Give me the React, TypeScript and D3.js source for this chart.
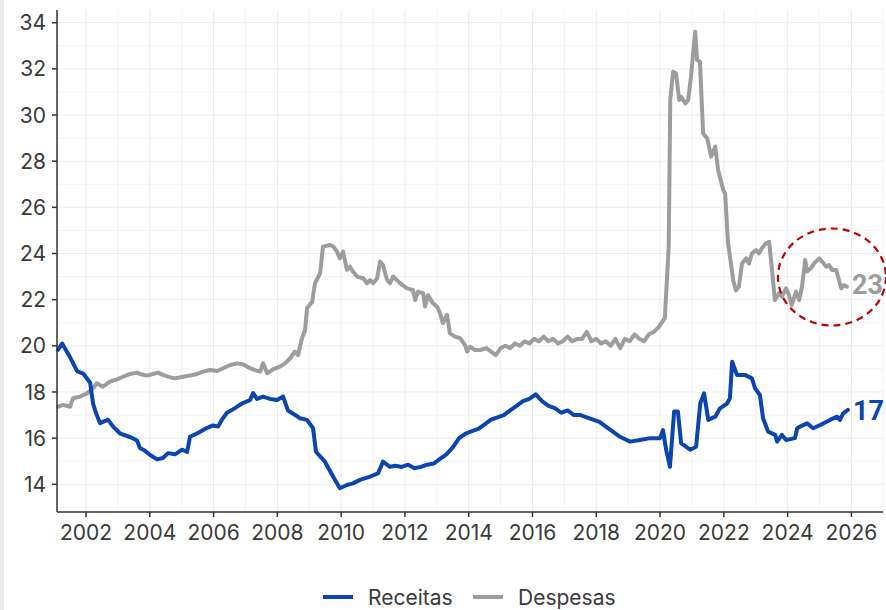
import React from "react";
import * as d3 from "d3";

const receitasYears = [
  2001.12, 2001.25, 2001.5, 2001.72, 2001.91, 2002.13, 2002.22, 2002.31, 2002.44, 2002.69, 2002.85,
  2003.07, 2003.38, 2003.6, 2003.69, 2003.85, 2004.01, 2004.23, 2004.41, 2004.57, 2004.79, 2005.01,
  2005.17, 2005.26, 2005.48, 2005.73, 2005.98, 2006.14, 2006.26, 2006.42, 2006.67, 2006.89, 2007.14,
  2007.24, 2007.36, 2007.55, 2007.77, 2007.99, 2008.18, 2008.33, 2008.62, 2008.71, 2008.93, 2009.12,
  2009.21, 2009.49, 2009.75, 2009.96, 2010.18, 2010.37, 2010.59, 2010.91, 2011.16, 2011.31, 2011.53,
  2011.7, 2011.9, 2012.1, 2012.3, 2012.5, 2012.7, 2012.9, 2013.1, 2013.3, 2013.5, 2013.7, 2013.9,
  2014.1, 2014.3, 2014.5, 2014.7, 2014.9, 2015.1, 2015.3, 2015.5, 2015.7, 2015.9, 2016.1, 2016.3,
  2016.5, 2016.7, 2016.9, 2017.1, 2017.3, 2017.5, 2017.7, 2017.9, 2018.1, 2018.3, 2018.5, 2018.74,
  2019.06, 2019.37, 2019.69, 2020.0, 2020.09, 2020.19, 2020.31, 2020.44, 2020.56, 2020.66, 2020.94,
  2021.13, 2021.26, 2021.38, 2021.51, 2021.73, 2021.88, 2022.1, 2022.19, 2022.26, 2022.41, 2022.66,
  2022.88, 2022.98, 2023.13, 2023.23, 2023.39, 2023.61, 2023.67, 2023.82, 2023.95, 2024.23, 2024.3,
  2024.39, 2024.61, 2024.8, 2025.02, 2025.33, 2025.55, 2025.64, 2025.74, 2025.89,
];
const receitasValues = [
  19.82, 20.1, 19.5, 18.9, 18.8, 18.4, 17.5, 17.1, 16.65, 16.8, 16.5,
  16.2, 16.05, 15.9, 15.57, 15.45, 15.27, 15.08, 15.14, 15.35, 15.3, 15.5,
  15.4, 16.06, 16.2, 16.4, 16.55, 16.5, 16.8, 17.1, 17.3, 17.5, 17.65,
  17.95, 17.7, 17.8, 17.7, 17.65, 17.8, 17.2, 16.95, 16.86, 16.79, 16.43,
  15.41, 14.98, 14.33, 13.83, 13.97, 14.04, 14.19, 14.33, 14.48, 14.98, 14.76,
  14.8, 14.75, 14.85, 14.7, 14.75, 14.85, 14.9, 15.1, 15.3, 15.6, 16.0, 16.2,
  16.3, 16.4, 16.6, 16.8, 16.9, 17.0, 17.2, 17.4, 17.6, 17.7, 17.9, 17.6,
  17.4, 17.3, 17.1, 17.2, 17.0, 17.0, 16.9, 16.8, 16.7, 16.5, 16.3, 16.06,
  15.85, 15.92, 16.0, 16.0, 16.35, 15.5, 14.76, 17.15, 17.15, 15.78, 15.5,
  15.63, 17.5, 17.94, 16.79, 16.93, 17.29, 17.5, 17.73, 19.31, 18.74, 18.74,
  18.59, 18.16, 17.87, 16.86, 16.28, 16.14, 15.85, 16.14, 15.92, 16.0, 16.43,
  16.5, 16.64, 16.43, 16.57, 16.79, 16.93, 16.79, 17.07, 17.22,
];

const despesasYears = [
  2001.12, 2001.28, 2001.5, 2001.59, 2001.81, 2002.03, 2002.22, 2002.34, 2002.53, 2002.75, 2002.97,
  2003.16, 2003.38, 2003.6, 2003.69, 2003.91, 2004.1, 2004.26, 2004.41, 2004.63, 2004.79, 2005.04,
  2005.26, 2005.48, 2005.67, 2005.89, 2006.11, 2006.3, 2006.52, 2006.74, 2006.92, 2007.14, 2007.3,
  2007.46, 2007.55, 2007.68, 2007.86, 2008.08, 2008.24, 2008.4, 2008.55, 2008.65, 2008.77, 2008.87,
  2008.93, 2009.09, 2009.18, 2009.34, 2009.43, 2009.65, 2009.75, 2009.87, 2009.96, 2010.06, 2010.18,
  2010.28, 2010.37, 2010.5, 2010.69, 2010.81, 2010.91, 2011.0, 2011.13, 2011.22, 2011.31, 2011.44,
  2011.53, 2011.63, 2011.85, 2012.07, 2012.25, 2012.32, 2012.41, 2012.57, 2012.63, 2012.72, 2012.88,
  2013.01, 2013.1, 2013.19, 2013.32, 2013.41, 2013.57, 2013.73, 2013.88, 2013.95, 2014.04, 2014.2,
  2014.36, 2014.55, 2014.7, 2014.85, 2015.0, 2015.15, 2015.3, 2015.45, 2015.6, 2015.75, 2015.9,
  2016.05, 2016.2, 2016.35, 2016.5, 2016.65, 2016.8, 2016.95, 2017.1, 2017.25, 2017.4, 2017.55,
  2017.7, 2017.85, 2018.0, 2018.15, 2018.3, 2018.45, 2018.6, 2018.75, 2018.9, 2019.05, 2019.2,
  2019.35, 2019.5, 2019.65, 2019.8, 2019.95, 2020.05, 2020.15, 2020.27, 2020.32, 2020.41, 2020.5,
  2020.6, 2020.66, 2020.79, 2020.88, 2020.97, 2021.1, 2021.16, 2021.25, 2021.35, 2021.48, 2021.6,
  2021.73, 2021.82, 2021.98, 2022.04, 2022.13, 2022.3, 2022.38, 2022.47, 2022.57, 2022.7, 2022.79,
  2022.88, 2023.01, 2023.1, 2023.19, 2023.32, 2023.42, 2023.51, 2023.6, 2023.73, 2023.82, 2023.95,
  2024.04, 2024.13, 2024.26, 2024.36, 2024.45, 2024.55, 2024.61, 2024.73, 2024.83, 2024.99, 2025.08,
  2025.21, 2025.3, 2025.39, 2025.52, 2025.61, 2025.68, 2025.77, 2025.86,
];
const despesasValues = [
  17.36, 17.44, 17.36, 17.73, 17.8, 17.94, 18.16, 18.38, 18.23, 18.45, 18.55,
  18.66, 18.78, 18.84, 18.78, 18.71, 18.78, 18.84, 18.74, 18.64, 18.59, 18.66,
  18.71, 18.78, 18.88, 18.95, 18.91, 19.03, 19.17, 19.24, 19.2, 19.03, 18.95,
  18.88, 19.24, 18.81, 18.98, 19.1, 19.24, 19.46, 19.75, 19.6, 20.33, 20.69,
  21.63, 21.91, 22.71, 23.14, 24.3, 24.37, 24.3, 24.08, 23.79, 24.08, 23.29,
  23.43, 23.22, 23.0, 22.93, 22.71, 22.85, 22.71, 22.93, 23.65, 23.5, 22.85,
  22.71, 23.0, 22.71, 22.49, 22.42, 21.98, 22.35, 22.28, 21.7, 22.2, 21.84,
  21.7, 21.41, 20.98, 21.34, 20.54, 20.4, 20.33, 20.04, 19.75, 19.96, 19.82,
  19.82, 19.9, 19.75, 19.6, 19.9, 20.0, 19.9, 20.1, 20.0, 20.2, 20.1,
  20.3, 20.2, 20.4, 20.2, 20.3, 20.1, 20.2, 20.4, 20.2, 20.3, 20.3,
  20.6, 20.2, 20.3, 20.1, 20.2, 20.0, 20.3, 19.9, 20.3, 20.2, 20.5,
  20.3, 20.2, 20.5, 20.6, 20.8, 21.0, 21.2, 24.3, 30.67, 31.88, 31.8,
  30.65, 30.79, 30.5, 30.65, 31.67, 33.61, 32.38, 32.31, 29.2, 28.99, 28.2,
  28.63, 27.62, 26.75, 26.6, 24.45, 22.8, 22.4, 22.56, 23.57, 23.79, 23.57,
  24.0, 24.15, 24.0, 24.22, 24.44, 24.51, 23.29, 21.98, 22.28, 22.13, 22.49,
  22.2, 21.77, 22.35, 21.98, 22.56, 23.72, 23.22, 23.36, 23.57, 23.79, 23.65,
  23.43, 23.5, 23.29, 23.29, 22.85, 22.49, 22.63, 22.56,
];

const xTickYears = [2002, 2004, 2006, 2008, 2010, 2012, 2014, 2016, 2018, 2020, 2022, 2024, 2026];
const yTickValues = [14, 16, 18, 20, 22, 24, 26, 28, 30, 32, 34];
const seriesNames = ["Receitas", "Despesas"];
const seriesColors = ["#0a45b0", "#9d9d9d"];
const endLabels = ["17", "23"];

const W = 886;
const H = 610;
const FONT = "Inter, 'Noto Sans', sans-serif";

export default function App() {
  const left = 57, right = 883, top = 10, bottom = 512;
  const x = d3.scaleLinear().domain([2001.09, 2026.99]).range([left, right]);
  const y = d3.scaleLinear().domain([12.8, 34.55]).range([bottom, top]);

  const rec = receitasYears.map((t, i) => [t, receitasValues[i]] as [number, number]);
  const dep = despesasYears.map((t, i) => [t, despesasValues[i]] as [number, number]);
  const line = d3
    .line<[number, number]>()
    .x((d) => x(d[0]))
    .y((d) => y(d[1]))
    .curve(d3.curveLinear);

  const gridYears = d3.range(2002, 2028);
  const gridVals = d3.range(13, 35);

  const recLast = rec[rec.length - 1];
  const depLast = dep[dep.length - 1];

  return (
    <svg
      width={W}
      height={H}
      style={{ position: "absolute", left: 0, top: 0, background: "#fff" }}
      fontFamily={FONT}
    >
      <rect x={0} y={0} width={W} height={H} fill="#fff" />
      <rect x={0} y={0} width={4} height={H} fill="#ebebeb" />
      {gridVals.map((v) => (
        <line
          key={"gy" + v}
          x1={left}
          x2={right}
          y1={y(v)}
          y2={y(v)}
          stroke={v % 2 === 0 ? "#ebebeb" : "#f3f3f3"}
          strokeWidth={1}
        />
      ))}
      {gridYears.map((t) => (
        <line
          key={"gx" + t}
          x1={x(t)}
          x2={x(t)}
          y1={top}
          y2={bottom}
          stroke={t % 2 === 0 ? "#ebebeb" : "#f3f3f3"}
          strokeWidth={1}
        />
      ))}
      <path d={line(dep) || ""} fill="none" stroke={seriesColors[1]} strokeWidth={4} strokeLinejoin="round" strokeLinecap="round" />
      <path d={line(rec) || ""} fill="none" stroke={seriesColors[0]} strokeWidth={4} strokeLinejoin="round" strokeLinecap="round" />

      {/* axes */}
      <line x1={left} x2={left} y1={top} y2={bottom} stroke="#333" strokeWidth={1.5} />
      <line x1={left} x2={right} y1={bottom} y2={bottom} stroke="#333" strokeWidth={1.5} />
      {yTickValues.map((v) => (
        <g key={"yt" + v}>
          <line x1={left - 5} x2={left} y1={y(v)} y2={y(v)} stroke="#333" strokeWidth={1.5} />
          <text x={left - 11} y={y(v)} dy="0.36em" textAnchor="end" fontSize={21} fill="#3a3a3a">
            {v}
          </text>
        </g>
      ))}
      {xTickYears.map((t) => (
        <g key={"xt" + t}>
          <line x1={x(t)} x2={x(t)} y1={bottom} y2={bottom + 5} stroke="#333" strokeWidth={1.5} />
          <text x={x(t)} y={bottom + 28} textAnchor="middle" fontSize={21} fill="#3a3a3a">
            {t}
          </text>
        </g>
      ))}

      {/* end labels */}
      <text x={x(depLast[0]) + 5} y={y(depLast[1]) - 2} dy="0.36em" fontSize={27} fontFamily="Roboto, sans-serif" fontWeight="bold" fill={seriesColors[1]}>
        {endLabels[1]}
      </text>
      <text x={x(recLast[0]) + 5} y={y(recLast[1])} dy="0.36em" fontSize={27} fontFamily="Roboto, sans-serif" fontWeight="bold" fill={seriesColors[0]}>
        {endLabels[0]}
      </text>

      {/* highlight ellipse */}
      <ellipse cx={832} cy={277} rx={54} ry={48.5} fill="none" stroke="#c00000" strokeWidth={2.2} strokeDasharray="7 5" />

      {/* legend */}
      {seriesNames.map((n, i) => {
        const lx = i === 0 ? 323 : 473;
        return (
          <g key={n}>
            <line x1={lx} x2={lx + 30} y1={597} y2={597} stroke={seriesColors[i]} strokeWidth={4} />
            <text x={lx + 45} y={597} dy="0.36em" fontSize={21} fill="#3a3a3a">
              {n}
            </text>
          </g>
        );
      })}
    </svg>
  );
}
